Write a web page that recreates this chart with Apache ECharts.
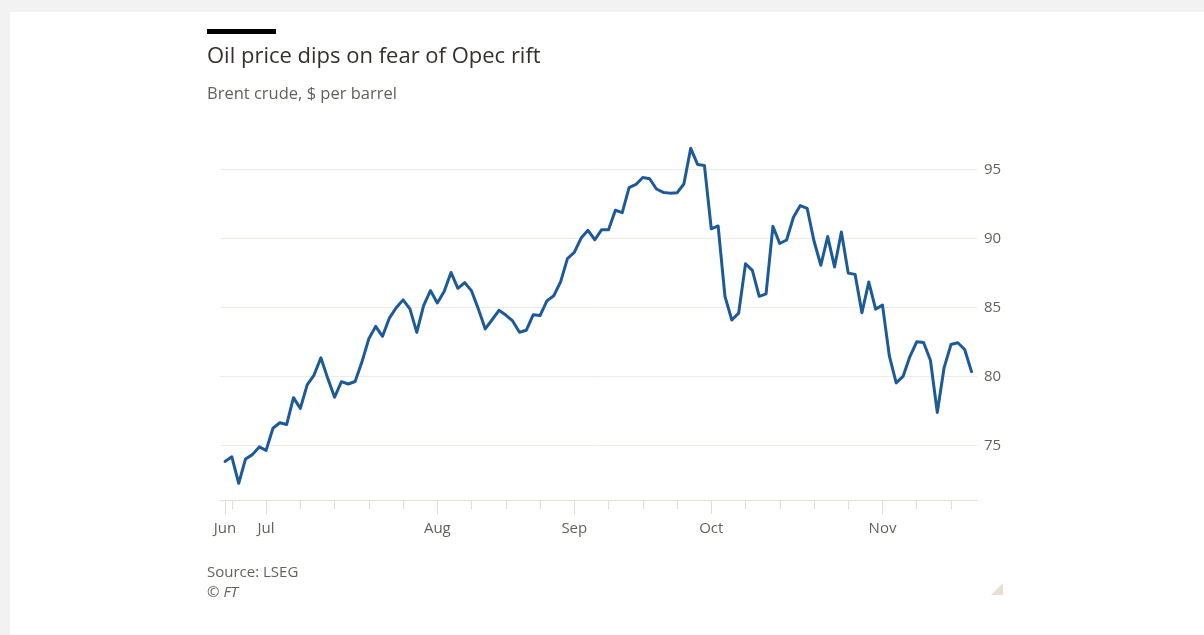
<!DOCTYPE html>
<html>
<head>
<meta charset="utf-8">
<script src="https://cdn.jsdelivr.net/npm/echarts@6/dist/echarts.min.js"></script>
<style>
  html, body { margin: 0; padding: 0; background: #f2f2f2; }
  #card { position: absolute; left: 10px; top: 12px; width: 1194px; height: 623px; background: #ffffff; }
  #chart { position: absolute; left: 0; top: 0; width: 1204px; height: 635px; }
</style>
</head>
<body>
<div id="card"></div>
<div id="chart"></div>
<script>
// Brent crude daily closes, one per weekday from 23 Jun to 23 Nov 2023
const startDate = '2023-06-23';
const endDate = '2023-11-23';
const prices = [
  73.85, 74.18, 72.26, 74.03, 74.34, 74.90, 74.65, 76.25, 76.65, 76.52,
  78.47, 77.69, 79.40, 80.11, 81.36, 79.87, 78.50, 79.63, 79.46, 79.64,
  81.07, 82.74, 83.64, 82.92, 84.24, 84.99, 85.56, 84.91, 83.20, 85.14,
  86.24, 85.34, 86.17, 87.55, 86.40, 86.81, 86.21, 84.89, 83.45, 84.12,
  84.80, 84.46, 84.03, 83.21, 83.36, 84.48, 84.42, 85.49, 85.86, 86.86,
  88.55, 89.00, 90.04, 90.60, 89.92, 90.65, 90.64, 92.06, 91.88, 93.70,
  93.93, 94.43, 94.34, 93.60, 93.35, 93.30, 93.32, 93.96, 96.55, 95.38,
  95.31, 90.71, 90.92, 85.81, 84.10, 84.60, 88.18, 87.70, 85.82, 86.00,
  90.89, 89.65, 89.90, 91.55, 92.40, 92.20, 89.83, 88.07, 90.15, 87.95,
  90.48, 87.50, 87.41, 84.63, 86.85, 84.89, 85.18, 81.50, 79.54, 80.01,
  81.45, 82.52, 82.47, 81.18, 77.40, 80.65, 82.32, 82.45, 81.96, 80.36
];
const yTicks = [75, 80, 85, 90, 95];
const monthNames = ['Jan','Feb','Mar','Apr','May','Jun','Jul','Aug','Sep','Oct','Nov','Dec'];
const titleText = 'Oil price dips on fear of Opec rift';
const subtitleText = 'Brent crude, $ per barrel';
const sourceText = 'Source: LSEG';
const creditText = '\u00A9 FT';

// Trading-day calendar (weekdays only)
const dates = [];
for (let d = new Date(startDate + 'T00:00:00Z'); d <= new Date(endDate + 'T00:00:00Z'); d.setUTCDate(d.getUTCDate() + 1)) {
  const wd = d.getUTCDay();
  if (wd !== 0 && wd !== 6) dates.push(new Date(d));
}

// Weekly ticks on Mondays; month ticks on the first Monday of each month (plus the first day)
const weekTicks = [];
const monthTicks = [0];
let lastMonth = dates[0].getUTCMonth();
dates.forEach((d, i) => {
  if (d.getUTCDay() === 1) {
    weekTicks.push(i);
    if (d.getUTCMonth() !== lastMonth) { monthTicks.push(i); lastMonth = d.getUTCMonth(); }
  }
});

const seriesData = prices.map((p, i) => [i, p]);

const labelColor = '#66605c';
const fontFamily = '"Open Sans", "Noto Sans", sans-serif';

const chart = echarts.init(document.getElementById('chart'), null, { renderer: 'canvas' });
chart.setOption({
  animation: false,
  backgroundColor: 'transparent',
  textStyle: { fontFamily: fontFamily },
  title: [
    { text: titleText, left: 207, top: 46, padding: 0,
      textStyle: { fontSize: 22, fontWeight: 'normal', color: '#33302e', fontFamily: fontFamily } },
    { text: subtitleText, left: 207, top: 86, padding: 0,
      textStyle: { fontSize: 16.5, fontWeight: 'normal', color: labelColor, fontFamily: fontFamily } },
    { text: sourceText, left: 207, top: 565, padding: 0,
      textStyle: { fontSize: 15, fontWeight: 'normal', color: labelColor, fontFamily: fontFamily } },
    { text: creditText, left: 207, top: 585, padding: 0,
      textStyle: { fontSize: 15, fontWeight: 'normal', fontStyle: 'italic', color: labelColor, fontFamily: fontFamily } }
  ],
  graphic: [
    { type: 'rect', left: 207, top: 29, shape: { width: 69, height: 5 }, style: { fill: '#000000' } },
    { type: 'polygon', shape: { points: [[1003, 583], [1003, 595], [991, 595]] }, style: { fill: '#e9ded4' } }
  ],
  grid: { left: 220, top: 142.1, width: 757, height: 357.9, containLabel: false },
  xAxis: [
    {
      type: 'value', min: -0.73, max: 109.8, position: 'bottom',
      axisLine: { show: true, lineStyle: { color: '#e6ddd5', width: 1 } },
      axisTick: { show: true, length: 9, customValues: weekTicks, lineStyle: { color: '#e3dbd4', width: 1 } },
      axisLabel: { show: false },
      splitLine: { show: false }
    },
    {
      type: 'value', min: -0.73, max: 109.8, position: 'bottom',
      axisLine: { show: false },
      axisTick: { show: true, length: 14, customValues: monthTicks, lineStyle: { color: '#e3dbd4', width: 1 } },
      axisLabel: {
        show: true, customValues: monthTicks, margin: 21, color: labelColor, fontSize: 15, fontFamily: fontFamily,
        formatter: v => monthNames[dates[Math.round(v)].getUTCMonth()]
      },
      splitLine: { show: false }
    }
  ],
  yAxis: {
    type: 'value', min: 71.05, max: 97, position: 'right',
    axisLine: { show: false },
    axisTick: { show: false, customValues: yTicks },
    axisLabel: { customValues: yTicks, margin: 7, color: labelColor, fontSize: 15, fontFamily: fontFamily },
    splitLine: { show: true, lineStyle: { color: '#f0eae5', width: 1 } }
  },
  series: [{
    type: 'line',
    data: seriesData,
    xAxisIndex: 0,
    showSymbol: false,
    symbol: 'none',
    lineStyle: { color: '#1c5a9a', width: 3, join: 'round', cap: 'round' },
    clip: false
  }]
});
</script>
</body>
</html>
